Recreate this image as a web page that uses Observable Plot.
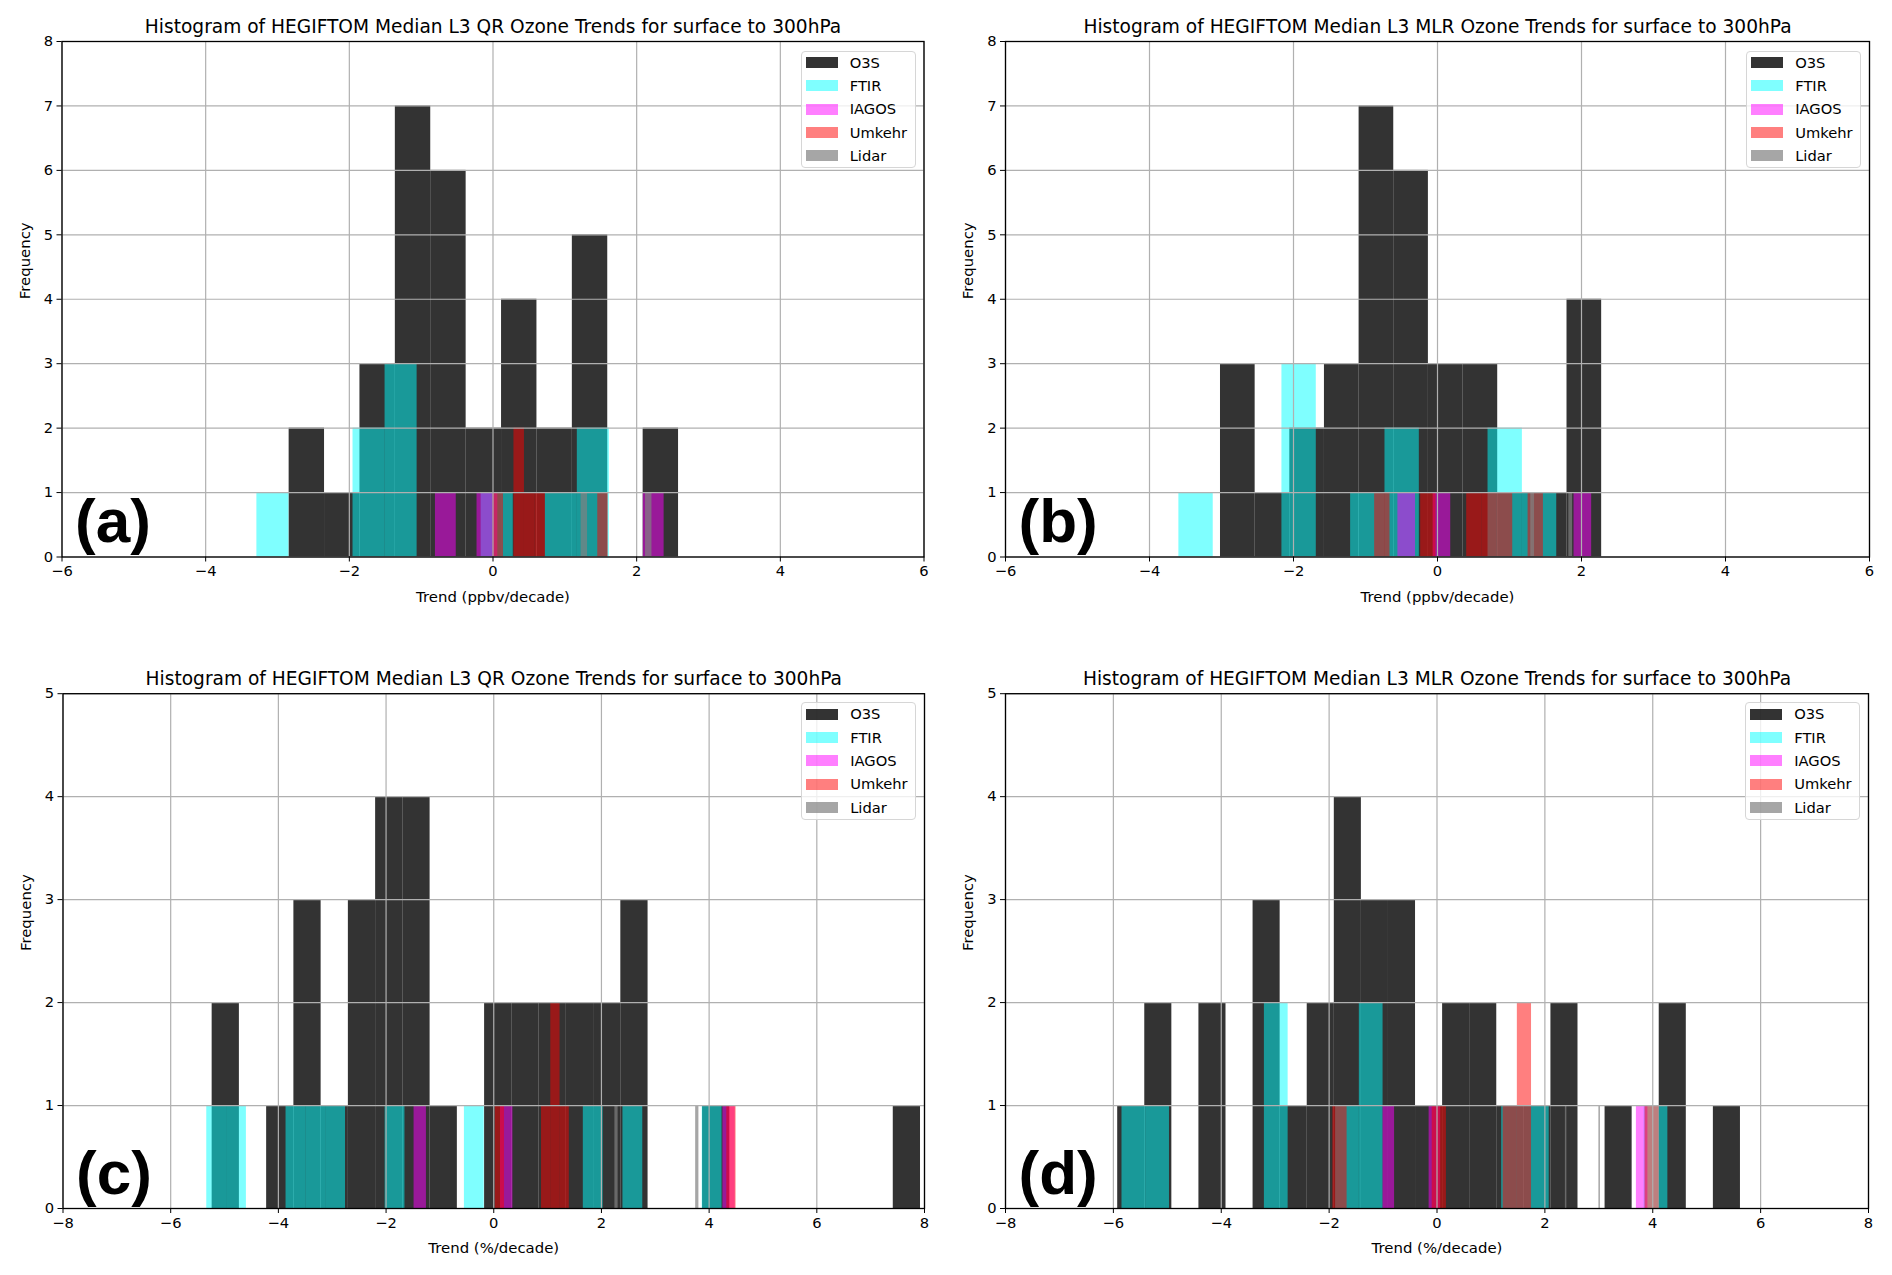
<!DOCTYPE html>
<html><head><meta charset="utf-8">
<script src="https://cdn.jsdelivr.net/npm/d3@7"></script>
<script src="https://cdn.jsdelivr.net/npm/@observablehq/plot@0.6"></script>
<style>
body{margin:0;background:#fff;}
#root{position:relative;width:1892px;height:1275px;font-family:"DejaVu Sans";overflow:hidden;}
.q{position:absolute;}
.q svg{overflow:visible;}
.legend{position:absolute;box-sizing:border-box;background:rgba(255,255,255,0.8);border:1px solid #d6d6d6;border-radius:4px;font:14.7px "DejaVu Sans";color:#000;}
.legend .p{position:absolute;width:32px;height:11px;}
.legend .t{position:absolute;line-height:16px;white-space:nowrap;}
</style></head><body><div id="root"></div>
<script>
// ---- data (bin range [lo, hi] per dataset; counts per equal-width bin) ----
const datasets = ["O3S", "FTIR", "IAGOS", "Umkehr", "Lidar"];
const colors = ["black", "cyan", "magenta", "red", "gray"];
const opacities = [0.8, 0.5, 0.5, 0.5, 0.7];

// (a) QR, ppbv/decade
const aLo = [-2.838, -3.287, -0.801, 0.000, 1.227];
const aHi = [2.583, 1.620, 2.382, 1.604, 2.213];
const aO3S = [2, 1, 3, 7, 6, 2, 4, 2, 5, 0, 2];
const aFTIR = [1, 0, 0, 2, 3, 0, 0, 1, 0, 1, 2];
const aIAGOS = [1, 0, 1, 0, 0, 0, 0, 0, 0, 0, 1];
const aUmkehr = [1, 0, 2, 1, 1, 0, 0, 0, 0, 0, 1];
const aLidar = [1, 0, 0, 0, 0, 0, 0, 0, 0, 0, 1];

// (b) MLR, ppbv/decade
const bLo = [-3.014, -3.592, -0.550, -0.873, 1.295];
const bHi = [2.280, 1.656, 2.141, 1.471, 1.877];
const bO3S = [3, 1, 2, 3, 7, 6, 3, 3, 1, 1, 4];
const bFTIR = [1, 0, 0, 3, 0, 1, 2, 0, 0, 2, 1];
const bIAGOS = [1, 0, 1, 0, 0, 0, 0, 0, 0, 0, 1];
const bUmkehr = [1, 0, 0, 1, 0, 0, 1, 1, 1, 0, 1];
const bLidar = [1, 0, 0, 0, 0, 0, 0, 0, 0, 0, 1];

// (c) QR, %/decade
const cLo = [-5.23, -5.33, -1.48, 0.027, 2.25];
const cHi = [7.926, 4.24, 4.485, 4.50, 3.81];
const cO3S = [2, 0, 1, 3, 1, 3, 4, 4, 1, 0, 2, 2, 2, 2, 2, 3, 0, 0, 1, 0, 0, 0, 0, 0, 0, 1];
const cFTIR = [1, 1, 0, 0, 1, 1, 1, 0, 0, 1, 0, 0, 0, 1, 0, 0, 0, 0, 0, 1, 0, 1, 0, 0, 0, 1];
const cIAGOS = [1, 0, 0, 0, 0, 0, 0, 1, 0, 0, 0, 0, 0, 0, 0, 0, 0, 0, 0, 0, 0, 0, 0, 0, 0, 1];
const cUmkehr = [1, 0, 0, 0, 0, 1, 2, 1, 0, 0, 0, 0, 0, 0, 0, 0, 0, 0, 0, 0, 0, 0, 0, 0, 0, 1];
const cLidar = [1, 0, 0, 0, 0, 0, 0, 0, 0, 0, 0, 0, 0, 0, 0, 0, 0, 0, 0, 0, 0, 0, 0, 0, 0, 1];

// (d) MLR, %/decade
const dLo = [-5.92, -5.84, -1.0, -1.93, 2.38];
const dHi = [5.626, 4.28, 3.91, 4.12, 3.03];
const dO3S = [1, 2, 0, 2, 0, 3, 1, 2, 4, 3, 3, 1, 2, 2, 1, 1, 2, 0, 1, 0, 2, 0, 1];
const dFTIR = [1, 1, 0, 0, 0, 0, 2, 0, 0, 1, 2, 0, 0, 0, 0, 0, 1, 1, 0, 0, 0, 0, 1];
const dIAGOS = [1, 0, 0, 0, 1, 0, 0, 0, 0, 0, 0, 0, 0, 0, 0, 0, 0, 0, 0, 0, 0, 0, 1];
const dUmkehr = [1, 0, 0, 0, 0, 0, 0, 1, 0, 0, 0, 0, 1, 2, 0, 0, 0, 0, 0, 0, 0, 0, 1];
const dLidar = [1, 0, 0, 0, 0, 0, 0, 0, 0, 0, 0, 0, 0, 0, 0, 0, 0, 0, 0, 0, 0, 0, 1];

const titleQR = "Histogram of HEGIFTOM Median L3 QR Ozone Trends for surface to 300hPa";
const titleMLR = "Histogram of HEGIFTOM Median L3 MLR Ozone Trends for surface to 300hPa";
const xTicksTop = [-6, -4, -2, 0, 2, 4, 6];
const xTicksBottom = [-8, -6, -4, -2, 0, 2, 4, 6, 8];
const yTicksTop = [0, 1, 2, 3, 4, 5, 6, 7, 8];
const yTicksBottom = [0, 1, 2, 3, 4, 5];

// ---- layout ----
const panels = [
  {tag: "(a)", title: titleQR, xlabel: "Trend (ppbv/decade)", lo: aLo, hi: aHi, counts: [aO3S, aFTIR, aIAGOS, aUmkehr, aLidar],
   xt: xTicksTop, yt: yTicksTop, q: [0, 0, 946, 637.5], f: [61.5, 923.5, 41, 556.5]},
  {tag: "(b)", title: titleMLR, xlabel: "Trend (ppbv/decade)", lo: bLo, hi: bHi, counts: [bO3S, bFTIR, bIAGOS, bUmkehr, bLidar],
   xt: xTicksTop, yt: yTicksTop, q: [946, 0, 946, 637.5], f: [1005, 1869, 41, 556.5]},
  {tag: "(c)", title: titleQR, xlabel: "Trend (%/decade)", lo: cLo, hi: cHi, counts: [cO3S, cFTIR, cIAGOS, cUmkehr, cLidar],
   xt: xTicksBottom, yt: yTicksBottom, q: [0, 637.5, 946, 637.5], f: [62.5, 924, 692.7, 1207.5]},
  {tag: "(d)", title: titleMLR, xlabel: "Trend (%/decade)", lo: dLo, hi: dHi, counts: [dO3S, dFTIR, dIAGOS, dUmkehr, dLidar],
   xt: xTicksBottom, yt: yTicksBottom, q: [946, 637.5, 946, 637.5], f: [1005, 1868, 692.7, 1207.5]}
];

const fmt = d => d < 0 ? "\u2212" + Math.abs(d) : String(d);
const root = document.getElementById("root");

for (const p of panels) {
  const [qx, qy, qw, qh] = p.q;
  const [L, R, T, B] = p.f;
  const bars = datasets.map((name, i) => {
    const counts = p.counts[i];
    const n = counts.length, w = (p.hi[i] - p.lo[i]) / n;
    return counts.map((c, k) => ({set: name, x1: p.lo[i] + k * w, x2: p.lo[i] + (k + 1) * w, y: c})).filter(d => d.y > 0);
  });
  const xd = [p.xt[0], p.xt[p.xt.length - 1]];
  const yd = [p.yt[0], p.yt[p.yt.length - 1]];
  const chart = Plot.plot({
    width: qw, height: qh,
    marginLeft: L - qx, marginRight: qx + qw - R, marginTop: T - qy, marginBottom: qy + qh - B,
    style: {fontFamily: "DejaVu Sans", fontSize: "14.7px", background: "transparent", color: "black"},
    x: {domain: xd}, y: {domain: yd},
    marks: [
      ...bars.map((rows, i) => Plot.rectY(rows, {x1: "x1", x2: "x2", y1: 0, y2: "y", fill: colors[i], fillOpacity: opacities[i]})),
      Plot.gridX(p.xt, {stroke: "#b0b0b0", strokeOpacity: 1, strokeWidth: 1.2}),
      Plot.gridY(p.yt, {stroke: "#b0b0b0", strokeOpacity: 1, strokeWidth: 1.2}),
      Plot.frame({stroke: "black", strokeWidth: 1.3}),
      Plot.axisX(p.xt, {tickSize: 5, tickPadding: 4, tickFormat: fmt, fontSize: 14.7, label: null}),
      Plot.axisY(p.yt, {tickSize: 5, tickPadding: 4, tickFormat: fmt, fontSize: 14.7, label: null}),
      Plot.text([p.xlabel], {frameAnchor: "bottom", dy: 40, lineAnchor: "middle", text: d => d, fontSize: 14.9, fill: "black"}),
      Plot.text(["Frequency"], {frameAnchor: "left", dx: -37, rotate: -90, lineAnchor: "middle", text: d => d, fontSize: 14.9, fill: "black"}),
      Plot.text([p.title], {frameAnchor: "top", dy: -14.5, lineAnchor: "middle", text: d => d, fontSize: 18.6, fill: "black"}),
      Plot.text([p.tag], {frameAnchor: "bottom-left", dx: 13, dy: -15, textAnchor: "start", lineAnchor: "bottom", text: d => d,
        fontSize: 62, fontWeight: "bold", fontFamily: "Liberation Sans", fill: "black"})
    ]
  });
  const div = document.createElement("div");
  div.className = "q";
  div.style.left = qx + "px"; div.style.top = qy + "px";
  div.appendChild(chart);
  root.appendChild(div);

  // legend
  const lw = 115.3, lh = 117.3;
  const lg = document.createElement("div");
  lg.className = "legend";
  lg.style.left = (R - 7.5 - lw) + "px";
  lg.style.top = (T + 9.7) + "px";
  lg.style.width = lw + "px"; lg.style.height = lh + "px";
  datasets.forEach((name, i) => {
    const cy = 11 + i * 23.3;
    const pa = document.createElement("div");
    pa.className = "p";
    pa.style.left = "4px"; pa.style.top = (cy - 5.5) + "px";
    pa.style.background = colors[i]; pa.style.opacity = opacities[i];
    const t = document.createElement("div");
    t.className = "t";
    t.style.left = "48px"; t.style.top = (cy - 8) + "px";
    t.textContent = name;
    lg.appendChild(pa); lg.appendChild(t);
  });
  root.appendChild(lg);
}
</script></body></html>
